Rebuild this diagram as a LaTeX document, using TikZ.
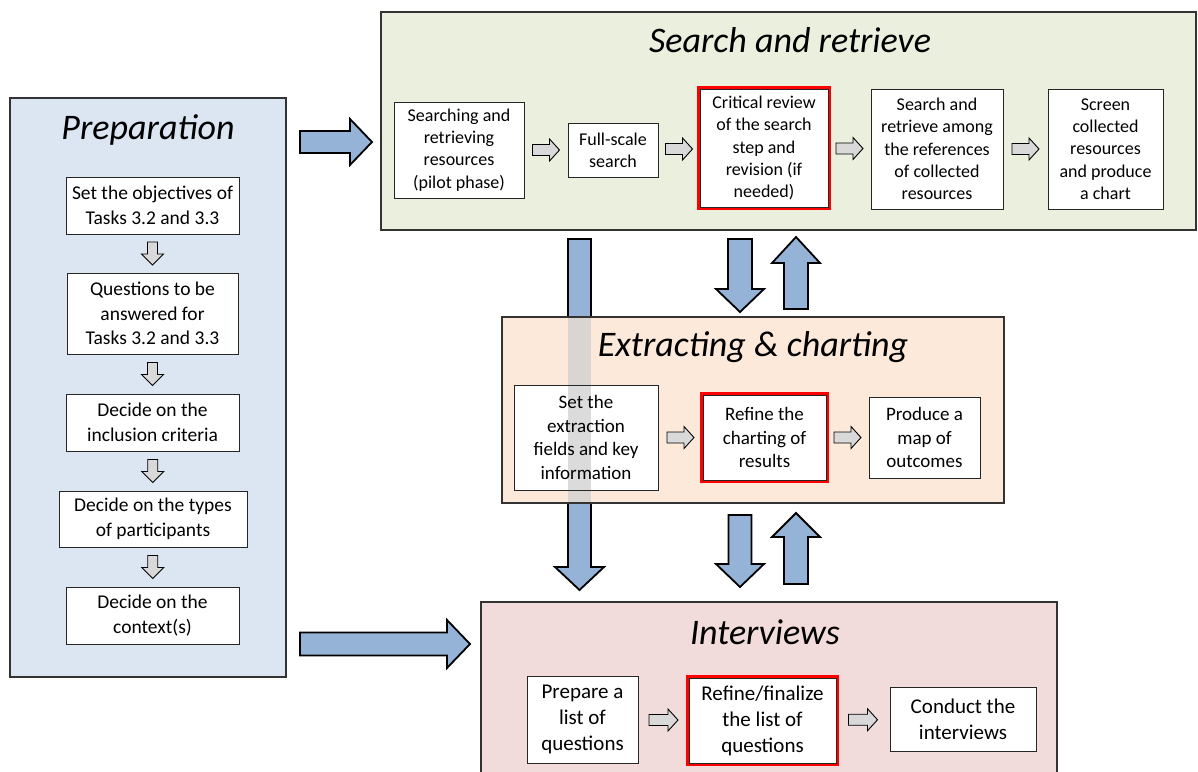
\documentclass[tikz,border=0pt]{standalone}
\usepackage{fontspec}
\setmainfont{Carlito}
\usetikzlibrary{calc}

\definecolor{prepfill}{HTML}{DCE6F2}
\definecolor{searchfill}{HTML}{EBEFDD}
\definecolor{extractfill}{HTML}{FDE9D9}
\definecolor{interfill}{HTML}{F2DCDB}
\definecolor{arrowblue}{HTML}{95B3D7}
\definecolor{arrowgrey}{HTML}{D9D9D9}
\definecolor{stripegrey}{HTML}{D9D5D2}

\tikzset{
  % block arrow pointing along +x: length, shaft width, head width, head length
  pics/barrow/.style n args={4}{code={
    \path[pic actions] (-#1/2,-#2/2) -- (#1/2-#4,-#2/2) -- (#1/2-#4,-#3/2)
      -- (#1/2,0) -- (#1/2-#4,#3/2) -- (#1/2-#4,#2/2) -- (-#1/2,#2/2) -- cycle;
  }},
  bluearrow/.style={fill=arrowblue, draw=black, line width=1.8pt, line join=miter},
  greyarrow/.style={fill=arrowgrey, draw=black, line width=0.9pt},
  panel/.style={draw=black!80, line width=1.2pt},
  paneltitle/.style={font=\fontsize{36}{40}\selectfont\itshape, inner sep=0pt},
  box/.style={draw=black!85, line width=0.9pt, fill=white, align=center, inner sep=0pt},
  redbox/.style={box, preaction={draw=red, line width=6pt}},
  prepfont/.style={font=\fontsize{19.5}{24.5}\selectfont},
  searchfont/.style={font=\fontsize{18}{22.3}\selectfont},
  extractfont/.style={font=\fontsize{19}{23.5}\selectfont},
  interfont/.style={font=\fontsize{21}{26}\selectfont},
}

\begin{document}
\begin{tikzpicture}[x=1pt, y=-1pt]
\useasboundingbox (0,0) rectangle (1198,771);
\clip (0,0) rectangle (1198,771);

% ---------------- Preparation ----------------
\draw[panel, fill=prepfill] (10,98) rectangle (286,677);
\node[paneltitle] (preptitle) at (148,130) {Preparation};
\node[box, prepfont, minimum width=173, minimum height=57] (p1) at (152.5,205.5)
  {Set the objectives of\\Tasks 3.2 and 3.3};
\node[box, prepfont, minimum width=171, minimum height=81] (p2) at (152.5,313.5)
  {Questions to be\\answered for\\Tasks 3.2 and 3.3};
\node[box, prepfont, minimum width=173, minimum height=57] (p3) at (152.5,422.5)
  {Decide on the\\inclusion criteria};
\node[box, prepfont, minimum width=188, minimum height=56] (p4) at (153,519)
  {Decide on the types\\of participants};
\node[box, prepfont, minimum width=173, minimum height=57] (p5) at (152.5,615.5)
  {Decide on the\\context(s)};
\foreach \a/\b in {p1/p2, p2/p3, p3/p4, p4/p5}
  \pic[greyarrow, rotate=-90] at ($(\a.south)!0.5!(\b.north)$) {barrow={23}{10}{22}{11}};

% ---------------- Search and retrieve ----------------
\draw[panel, fill=searchfill] (381,12) rectangle (1196,230);
\node[paneltitle] (searchtitle) at (790,40) {Search and retrieve};
\node[box, searchfont, minimum width=130, minimum height=96] (s1) at (459,150)
  {Searching and\\retrieving\\resources\\(pilot phase)};
\node[box, searchfont, minimum width=90, minimum height=54] (s2) at (613,150)
  {Full-scale\\search};
\node[redbox, searchfont, minimum width=128, minimum height=118] (s3) at (764,148)
  {Critical review\\of the search\\step and\\revision (if\\needed)};
\node[box, searchfont, minimum width=132, minimum height=120] (s4) at (937,149)
  {Search and\\retrieve among\\the references\\of collected\\resources};
\node[box, searchfont, minimum width=115, minimum height=120] (s5) at (1105.5,149)
  {Screen\\collected\\resources\\and produce\\a chart};
\foreach \a/\b in {s1/s2, s2/s3, s3/s4, s4/s5}
  \pic[greyarrow] at ($(\a.east)!0.5!(\b.west)$ |- 0,150) {barrow={27}{11}{22}{10}};

% ---------------- long arrow from search to interviews ----------------
\pic[bluearrow, rotate=-90] at (579.5,414.5) {barrow={351}{23}{49}{23}};

% ---------------- Extracting & charting ----------------
\draw[panel, fill=extractfill] (502,317) rectangle (1004,503);
% the long arrow seen through the panel
\fill[stripegrey] (568,318) rectangle (591,502);
\node[paneltitle] (extracttitle) at (753,347) {Extracting \& charting};
\node[box, extractfont, minimum width=144, minimum height=105] (e1) at (586,437.5)
  {Set the\\extraction\\fields and key\\information};
\fill[black, opacity=0.14] (568,385.5) rectangle (591,489.5);
\node[redbox, extractfont, minimum width=123, minimum height=85] (e2) at (764.5,437.5)
  {Refine the\\charting of\\results};
\node[box, extractfont, minimum width=111, minimum height=81] (e3) at (924.5,437.5)
  {Produce a\\map of\\outcomes};
\foreach \a/\b in {e1/e2, e2/e3}
  \pic[greyarrow] at ($(\a.east)!0.5!(\b.west)$ |- 0,438) {barrow={27}{11}{22}{10}};

% ---------------- arrows between the panels ----------------
\pic[bluearrow, rotate=-90] at (740,275.5) {barrow={73}{24}{48}{23}};
\pic[bluearrow, rotate=90] at (796,273) {barrow={72}{24}{48}{26}};
\pic[bluearrow, rotate=-90] at (740,551) {barrow={72}{23}{48}{23}};
\pic[bluearrow, rotate=90] at (796,548.5) {barrow={71}{24}{48}{24}};
\pic[bluearrow] at (336,142) {barrow={72}{22}{46}{22}};
\pic[bluearrow] at (385,644) {barrow={170}{23}{48}{23}};

% ---------------- Interviews ----------------
\draw[panel, fill=interfill] (481,602) rectangle (1057,800);
\node[paneltitle] (intertitle) at (765,632) {Interviews};
\node[box, interfont, minimum width=111, minimum height=87] (i1) at (582.5,719.5)
  {Prepare a\\list of\\questions};
\node[redbox, interfont, minimum width=147, minimum height=85] (i2) at (762.5,720.5)
  {Refine/finalize\\the list of\\questions};
\node[box, interfont, minimum width=146, minimum height=64] (i3) at (963,719)
  {Conduct the\\interviews};
\foreach \a/\b in {i1/i2, i2/i3}
  \pic[greyarrow] at ($(\a.east)!0.5!(\b.west)$ |- 0,718) {barrow={29}{11}{22}{10}};
\end{tikzpicture}
\end{document}
